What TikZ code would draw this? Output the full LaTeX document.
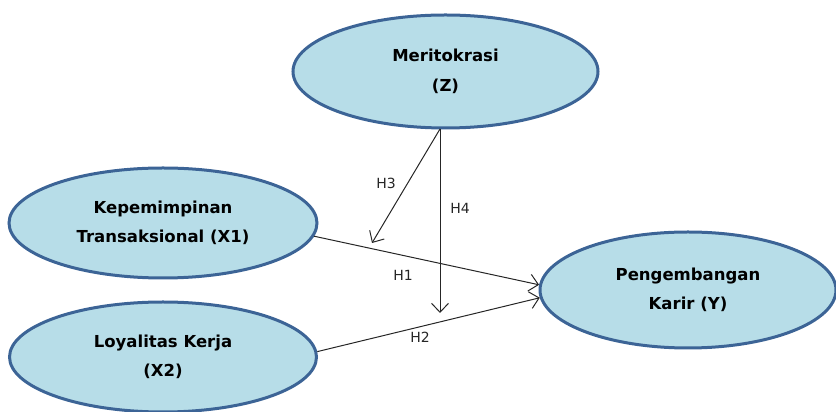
\documentclass[tikz,border=0pt]{standalone}
\usepackage{fontspec}
\setmainfont{DejaVu Sans}
\usetikzlibrary{arrows.meta,shapes.geometric}
\definecolor{ellfill}{HTML}{B7DDE8}
\definecolor{elldraw}{HTML}{3C6496}
\tikzset{
  var/.style={ellipse, draw=elldraw, line width=3pt, fill=ellfill, inner sep=0pt,
    align=center, font=\bfseries\fontsize{16.5}{29.5}\selectfont},
  conn/.style={line width=1pt, draw=black!85, -{Straight Barb[length=9pt,width=17pt,line width=1pt]}},
  hlab/.style={font=\fontsize{14}{16}\selectfont, text=black!85}
}
\begin{document}
\begin{tikzpicture}[x=1pt,y=1pt]
\useasboundingbox (0,0) rectangle (836,412);
\node[var, minimum width=305pt, minimum height=113pt] (Z) at (445.5,340.5) {Meritokrasi\\(Z)};
\node[var, minimum width=308pt, minimum height=110pt] (X1) at (163,189) {Kepemimpinan\\Transaksional (X1)};
\node[var, minimum width=307pt, minimum height=110pt] (X2) at (163,55) {Loyalitas Kerja\\(X2)};
\node[var, minimum width=296pt, minimum height=116pt] (Y) at (688,122) {Pengembangan\\Karir (Y)};
\coordinate (zs) at (440,283);
\coordinate (h3end) at (372,169);
\coordinate (h4end) at (440,99);
\draw[conn] (zs) -- (h3end);
\draw[conn] (zs) -- (h4end);
\draw[conn] (X1.-5) -- (Y.178);
\draw[conn] (X2.2) -- (Y.183);
\node[hlab] (lh3) at (386,229) {H3};
\node[hlab] (lh4) at (460,204) {H4};
\node[hlab] (lh1) at (403,137) {H1};
\node[hlab] (lh2) at (420,75) {H2};
\end{tikzpicture}
\end{document}
